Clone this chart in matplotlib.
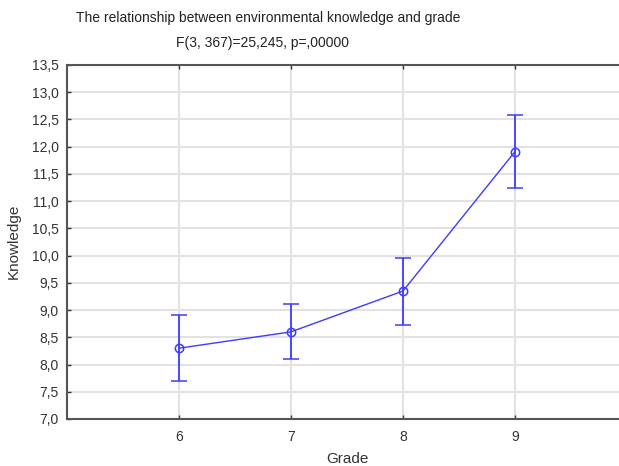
import matplotlib
matplotlib.use("Agg")
import matplotlib.pyplot as plt
import numpy as np

plt.rcParams['font.family'] = ['Liberation Sans', 'DejaVu Sans']

grades = [6, 7, 8, 9]
means = [8.30, 8.60, 9.35, 11.91]
upper = [8.91, 9.12, 9.95, 12.58]
lower = [7.70, 8.10, 8.73, 11.24]
yticks = np.arange(7.0, 13.51, 0.5)
ytick_labels = [f"{v:.1f}".replace('.', ',') for v in yticks]

W, H = 619, 466
fig = plt.figure(figsize=(W/100, H/100), dpi=100)
L, R, T, B = 67, 627, 65, 419
ax = fig.add_axes([L/W, 1-B/H, (R-L)/W, (B-T)/H])

m = np.array(means)
yerr = [m - np.array(lower), np.array(upper) - m]
col = '#3c3cff'
ax.errorbar(grades, means, yerr=yerr, color=col, lw=1.0, elinewidth=1.3,
            capsize=6, capthick=1.3, marker='o', markersize=6,
            markerfacecolor='none', markeredgecolor=col, markeredgewidth=1.1, zorder=3)

ax.set_xlim(5, 10)
ax.set_ylim(7.0, 13.5)
ax.set_xticks(grades)
ax.set_xticklabels([str(g) for g in grades])
ax.set_yticks(yticks)
ax.set_yticklabels(ytick_labels)
ax.grid(True, color='#e2e2e2', lw=1.5, zorder=0)
ax.set_axisbelow(True)
for s in ax.spines.values():
    s.set_color('#555555')
    s.set_linewidth(1.5)
ax.tick_params(direction='in', length=3, width=1, color='#333333',
               labelsize=10, labelcolor='#333333', top=True, pad=6)
ax.tick_params(axis='x', pad=8)

fig.text(347/W, 1-459/H, 'Grade', ha='center', va='center', fontsize=11, color='#333333')
fig.text(14/W, 1-241/H, 'Knowledge', ha='center', va='center', rotation=90,
         fontsize=11, color='#333333')

fig.text(268/W, 1-18/H, 'The relationship between environmental knowledge and grade',
         ha='center', va='center', fontsize=10, color='#222222')
fig.text(263/W, 1-43/H, 'F(3, 367)=25,245, p=,00000',
         ha='center', va='center', fontsize=10, color='#222222')

fig.savefig('out.png', dpi=100)
